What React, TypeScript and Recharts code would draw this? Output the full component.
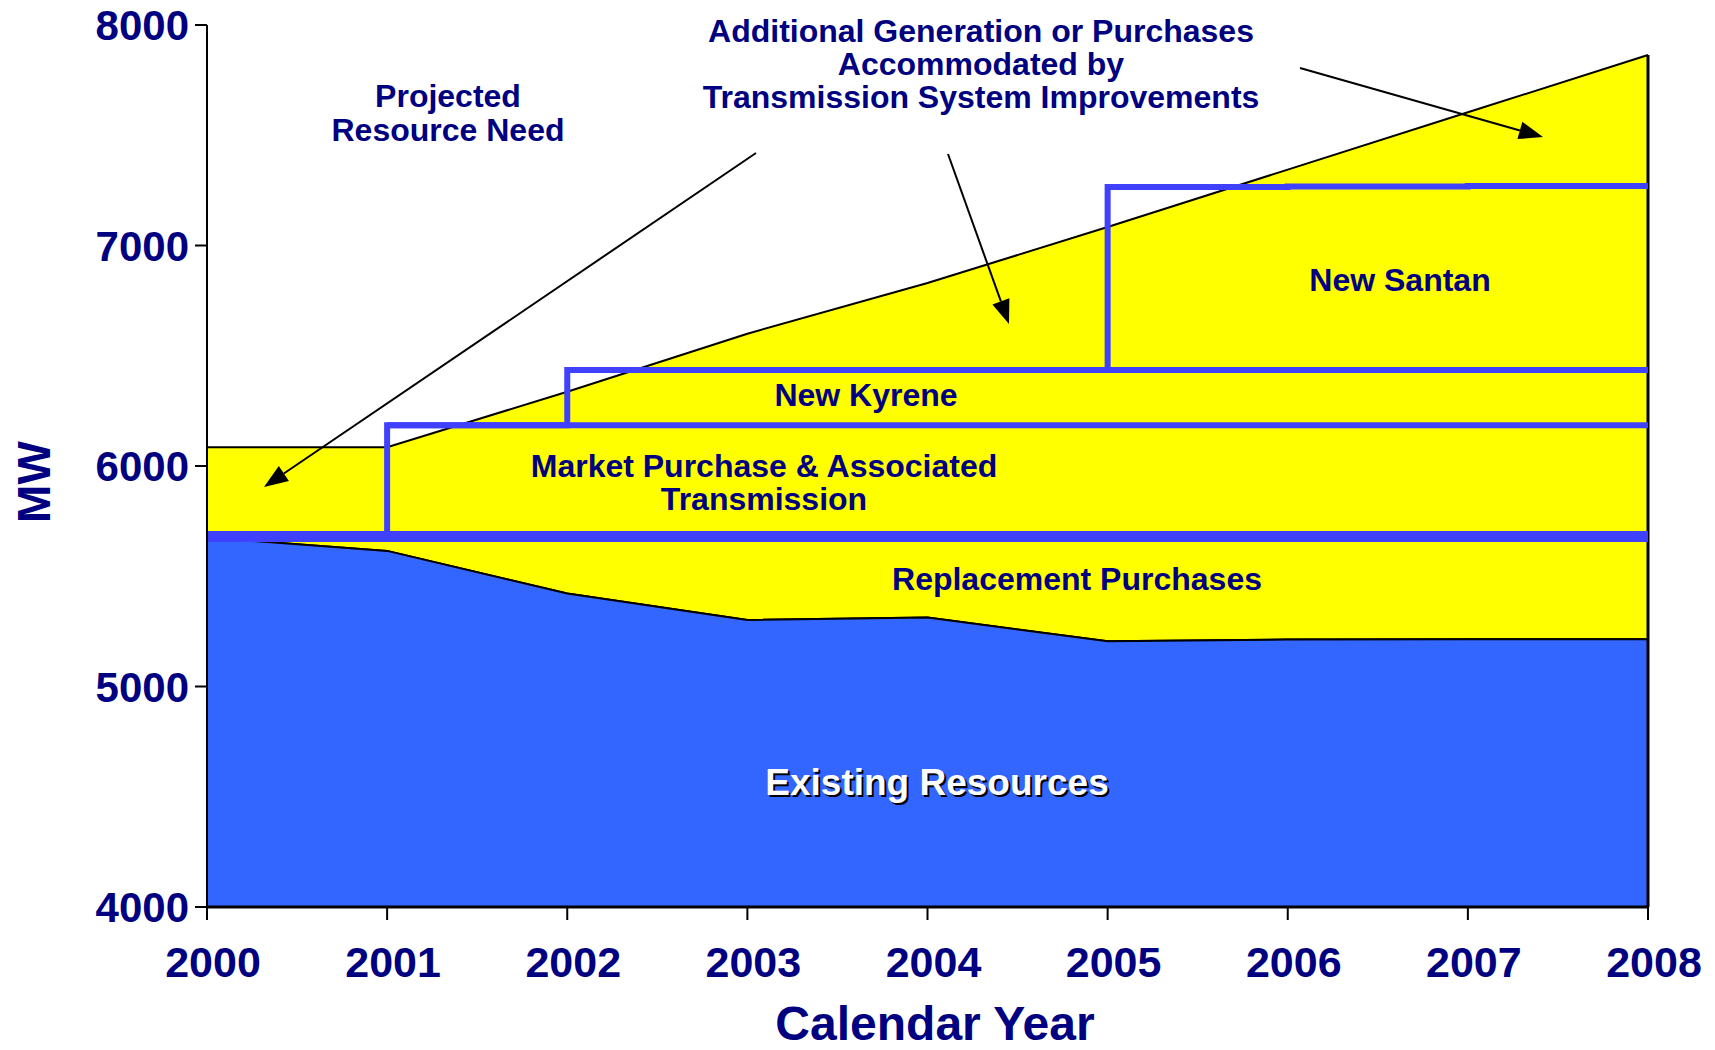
import { ComposedChart, Area, Line, XAxis, YAxis, ReferenceLine } from 'recharts';

const years = [2000, 2001, 2002, 2003, 2004, 2005, 2006, 2007, 2008];
const existingResources = [5675, 5615, 5422, 5302, 5313, 5205, 5213, 5214, 5214];
const projectedNeed = [6085, 6085, 6337, 6600, 6830, 7084, 7344, 7604, 7864];
const baseCapacity = [5680, 5680, 5680, 5680, 5680, 5680, 5680, 5680, 5680];
const marketPurchase = [5680, 6185, 6185, 6185, 6185, 6185, 6185, 6185, 6185];
const newKyrene = [null, 6185, 6435, 6435, 6435, 6435, 6435, 6435, 6435];
const newSantan = [null, null, null, null, 6435, 7265, 7268, 7270, 7270];
const yTicks = [4000, 5000, 6000, 7000, 8000];

const data = years.map((year, i) => ({
  year,
  existing: existingResources[i],
  need: [existingResources[i], projectedNeed[i]],
  base: baseCapacity[i],
  market: marketPurchase[i],
  kyrene: newKyrene[i],
  santan: newSantan[i],
}));

const NAVY = '#000080';
const FONT = '"Liberation Sans", Arial, Helvetica, sans-serif';
const STEP = '#4040FF';

const XTick = ({ x, y, payload }: any) => (
  <text x={x + 6} y={y + 55} textAnchor="middle" fontFamily={FONT} fontWeight="bold" fontSize={43} fill={NAVY}>
    {payload.value}
  </text>
);

const YTick = ({ x, y, payload }: any) => (
  <text x={x} y={y} dy={15} textAnchor="end" fontFamily={FONT} fontWeight="bold" fontSize={42} fill={NAVY}>
    {payload.value}
  </text>
);

const Arrow = ({ x1, y1, x2, y2 }: { x1: number; y1: number; x2: number; y2: number }) => {
  const a = Math.atan2(y2 - y1, x2 - x1);
  const len = 24;
  const half = 9;
  const bx = x2 - len * Math.cos(a);
  const by = y2 - len * Math.sin(a);
  const px = -Math.sin(a) * half;
  const py = Math.cos(a) * half;
  return (
    <g>
      <line x1={x1} y1={y1} x2={bx} y2={by} stroke="#000" strokeWidth={2} />
      <polygon points={`${x2},${y2} ${bx + px},${by + py} ${bx - px},${by - py}`} fill="#000" />
    </g>
  );
};

// annotation text blocks: lines, centre x, first baseline y, line step
const labels: { lines: string[]; x: number; y: number; step: number }[] = [
  { lines: ['Projected', 'Resource Need'], x: 448, y: 107, step: 34 },
  {
    lines: ['Additional Generation or Purchases', 'Accommodated by', 'Transmission System Improvements'],
    x: 981,
    y: 42,
    step: 33,
  },
  { lines: ['New Santan'], x: 1400, y: 291, step: 0 },
  { lines: ['New Kyrene'], x: 866, y: 406, step: 0 },
  { lines: ['Market Purchase & Associated', 'Transmission'], x: 764, y: 477, step: 33 },
  { lines: ['Replacement Purchases'], x: 1077, y: 590, step: 0 },
];

const arrows = [
  { x1: 756, y1: 153, x2: 264, y2: 487 },
  { x1: 948, y1: 154, x2: 1009, y2: 324 },
  { x1: 1300, y1: 68, x2: 1543, y2: 137 },
];

export default function App() {
  return (
    <div style={{ position: 'absolute', left: 0, top: 0, width: 1715, height: 1050, background: '#fff' }}>
      <ComposedChart width={1715} height={1050} data={data} margin={{ top: 25, right: 67, bottom: 0, left: 0 }}>
        <XAxis
          dataKey="year"
          type="number"
          domain={[2000, 2008]}
          ticks={years}
          interval={0}
          height={143}
          tickSize={13}
          axisLine={{ stroke: '#000', strokeWidth: 3 }}
          tickLine={{ stroke: '#000', strokeWidth: 2 }}
          tick={<XTick />}
        />
        <YAxis
          domain={[4000, 8000]}
          ticks={yTicks}
          width={207}
          tickSize={12}
          tickMargin={6}
          axisLine={{ stroke: '#000', strokeWidth: 2 }}
          tickLine={{ stroke: '#000', strokeWidth: 2 }}
          tick={<YTick />}
        />
        <Area dataKey="need" type="linear" fill="#FFFF00" fillOpacity={1} stroke="#000" strokeWidth={2} isAnimationActive={false} />
        <Area dataKey="existing" type="linear" fill="#3366FF" fillOpacity={1} stroke="#000" strokeWidth={2} isAnimationActive={false} />
        <ReferenceLine
          segment={[{ x: 2008, y: 4000 }, { x: 2008, y: projectedNeed[8] }]}
          stroke="#000"
          strokeWidth={3}
        />
        <Line dataKey="santan" type="stepAfter" stroke={STEP} strokeWidth={6} dot={false} strokeLinejoin="miter" isAnimationActive={false} />
        <Line dataKey="kyrene" type="stepAfter" stroke={STEP} strokeWidth={6} dot={false} strokeLinejoin="miter" isAnimationActive={false} />
        <Line dataKey="market" type="stepAfter" stroke={STEP} strokeWidth={6} dot={false} strokeLinejoin="miter" isAnimationActive={false} />
        <Line dataKey="base" type="linear" stroke={STEP} strokeWidth={11} dot={false} isAnimationActive={false} />
      </ComposedChart>
      <svg width={1715} height={1050} style={{ position: 'absolute', left: 0, top: 0, pointerEvents: 'none' }}>
        <g fontFamily={FONT} fontWeight="bold" fill={NAVY} textAnchor="middle">
          {labels.map((l) => (
            <text key={l.lines[0]} x={l.x} y={l.y} fontSize={32}>
              {l.lines.map((t, i) => (
                <tspan key={t} x={l.x} dy={i === 0 ? 0 : l.step}>
                  {t}
                </tspan>
              ))}
            </text>
          ))}
          <text x={939} y={797} fontSize={37} fill="#000">Existing Resources</text>
          <text x={937} y={795} fontSize={37} fill="#fff">Existing Resources</text>
          <text x={935} y={1040} fontSize={48}>Calendar Year</text>
          <text x={0} y={0} fontSize={46} transform="translate(50 482) rotate(-90)">MW</text>
        </g>
        {arrows.map((a, i) => (
          <Arrow key={i} {...a} />
        ))}
      </svg>
    </div>
  );
}
